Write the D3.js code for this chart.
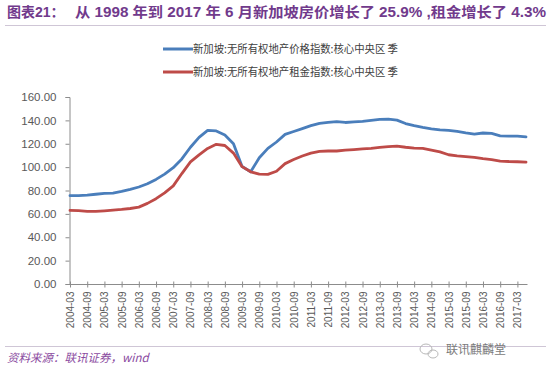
<!DOCTYPE html>
<html><head><meta charset="utf-8">
<script src="https://cdn.jsdelivr.net/npm/d3@7"></script>
<style>
body{margin:0;background:#fff;}
svg{display:block;}
</style></head>
<body>
<svg id="c" width="551" height="379"></svg>
<script>
const titleMain = "从 1998 年到 2017 年 6 月新加坡房价增长了 25.9% ,租金增长了 4.3%";
const titlePrefix = "图表21：";
const seriesNames = ["新加坡:无所有权地产价格指数:核心中央区 季", "新加坡:无所有权地产租金指数:核心中央区 季"];
const years = d3.range(2004, 2018);
const categories = [];
years.forEach(y => ["03","06","09","12"].forEach(m => { if (!(y === 2017 && (m === "09" || m === "12"))) categories.push(y + "-" + m); }));
const priceIndex = [75.6,75.7,76.0,76.8,77.6,77.8,79.2,81.0,83.0,85.8,89.5,94.0,99.5,107.0,117.0,125.5,131.5,131.0,127.5,120.0,100.5,96.0,108.0,116.0,121.5,128.0,130.5,133.0,135.5,137.5,138.3,139.0,138.2,138.7,139.2,140.0,140.9,141.0,140.2,137.3,135.5,134.0,132.8,131.8,131.5,130.5,129.3,128.3,129.2,128.9,126.8,126.6,126.6,125.9];
const rentIndex = [63.0,62.8,62.2,62.1,62.6,63.2,63.8,64.6,65.8,69.0,73.0,78.0,84.0,94.5,104.5,110.5,116.0,119.5,118.5,112.0,100.4,96.0,94.0,93.8,96.5,103.0,106.5,109.5,112.0,113.5,113.8,113.8,114.5,115.0,115.6,116.0,116.9,117.5,118.0,117.0,116.3,116.0,114.5,113.0,110.6,109.7,109.0,108.4,107.2,106.5,105.2,104.8,104.6,104.3];
const yTicks = [0,20,40,60,80,100,120,140,160];
const colors = ["#4a7ebb", "#be4b48"];
const sourceText = "资料来源：联讯证券，wind";
const watermark = "联讯麒麟堂";

const svg = d3.select("#c");
const cjk = "'Liberation Sans','Noto Sans CJK SC',sans-serif";

// Title
svg.append("text").attr("x", 7).attr("y", 17).attr("font-family", cjk).attr("font-weight", "bold")
  .attr("font-size", 14).attr("fill", "#713a8c").text(titlePrefix);
svg.append("text").attr("x", 75).attr("y", 17).attr("font-family", cjk).attr("font-weight", "bold")
  .attr("font-size", 14).attr("fill", "#713a8c").attr("textLength", 471).attr("lengthAdjust", "spacingAndGlyphs").text(titleMain);
svg.append("line").attr("x1", 5).attr("x2", 546).attr("y1", 25.5).attr("y2", 25.5).attr("stroke", "#cfc6d6").attr("stroke-width", 1);

// Scales
const x = d3.scalePoint().domain(categories).range([70, 526]);
const y = d3.scaleLinear().domain([0, 160]).range([284, 97]);

// Y axis
const yAxis = d3.axisLeft(y).tickValues(yTicks).tickFormat(d => d.toFixed(2)).tickSize(4).tickPadding(9);
const gy = svg.append("g").attr("transform", "translate(69.5,0)").call(yAxis);
gy.select(".domain").attr("stroke", "#8c8c8c");
gy.selectAll(".tick line").attr("stroke", "#8c8c8c");
gy.selectAll(".tick text").attr("font-family", "'Liberation Sans',Arial,sans-serif").attr("font-size", 11.5).attr("fill", "#595959");

// X axis
const shown = categories.filter((c, i) => i % 2 === 0);
const xAxis = d3.axisBottom(x).tickValues(shown).tickSizeOuter(0).tickSize(3).tickPadding(4);
const gx = svg.append("g").attr("transform", "translate(0,284.5)").call(xAxis);
gx.select(".domain").attr("stroke", "#8c8c8c").attr("d", "M69.5,0H527.5");
gx.selectAll(".tick line").attr("stroke", "#8c8c8c").attr("y1", -3).attr("y2", 3);
gx.selectAll(".tick text").attr("font-family", "'Liberation Sans','DejaVu Sans',sans-serif").attr("font-size", 10).attr("fill", "#595959")
  .attr("transform", "rotate(-90)").attr("text-anchor", "end").attr("x", -7).attr("y", 0).attr("dy", "0.35em");

// Lines
const line = d3.line().x((d, i) => x(categories[i])).y(d => y(d)).curve(d3.curveLinear);
[priceIndex, rentIndex].forEach((s, k) => {
  svg.append("path").datum(s).attr("d", line).attr("fill", "none").attr("stroke", colors[k])
    .attr("stroke-width", 2.8).attr("stroke-linejoin", "round").attr("stroke-linecap", "round");
});

// Legend
const legY = [49, 72];
seriesNames.forEach((n, k) => {
  svg.append("line").attr("x1", 163).attr("x2", 193).attr("y1", legY[k]).attr("y2", legY[k]).attr("stroke", colors[k]).attr("stroke-width", 3);
  svg.append("text").attr("x", 193).attr("y", legY[k]).attr("dy", "0.35em").attr("font-family", "'Noto Sans CJK SC',sans-serif")
    .attr("font-size", 11).attr("fill", "#404040").attr("textLength", 205).attr("lengthAdjust", "spacingAndGlyphs").text(n);
});

// Footer
svg.append("line").attr("x1", 5).attr("x2", 546).attr("y1", 346.5).attr("y2", 346.5).attr("stroke", "#cfc6d6").attr("stroke-width", 1);
svg.append("text").attr("x", 7).attr("y", 362).attr("font-family", "'Noto Sans CJK SC',sans-serif").attr("font-style", "italic")
  .attr("font-size", 11.5).attr("fill", "#8a4aa0").attr("transform", "skewX(0)").text(sourceText);
// watermark logo
const wm = svg.append("g").attr("fill", "none").attr("stroke", "#b8b8b8").attr("stroke-width", 1);
wm.append("ellipse").attr("cx", 426).attr("cy", 349).attr("rx", 6).attr("ry", 5);
wm.append("ellipse").attr("cx", 433).attr("cy", 354).attr("rx", 5).attr("ry", 4);
svg.append("text").attr("x", 446).attr("y", 354).attr("font-family", "'Noto Sans CJK SC',sans-serif")
  .attr("font-size", 12).attr("fill", "#7a7a7a").text(watermark);
</script>
</body></html>
